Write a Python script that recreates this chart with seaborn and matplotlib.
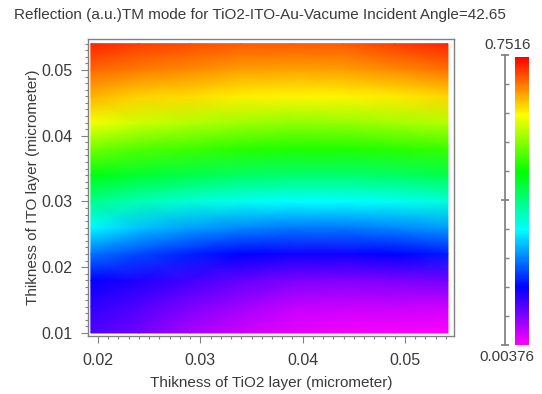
import numpy as np
import matplotlib
matplotlib.use("Agg")
import matplotlib.pyplot as plt
import seaborn as sns
from matplotlib.colors import LinearSegmentedColormap, Normalize
from matplotlib.ticker import MultipleLocator

# ---- data ----
tio2_thickness = [0.0193, 0.024, 0.029, 0.034, 0.039, 0.044, 0.049, 0.0542]
ito_thickness = [0.010, 0.014, 0.018, 0.022, 0.026, 0.030, 0.034, 0.038,
                 0.042, 0.046, 0.050, 0.054]

# reflection values per TiO2 column (bottom -> top in ITO thickness)
refl_x0193 = [0.108, 0.127, 0.150, 0.221, 0.299, 0.370, 0.442, 0.518, 0.596, 0.644, 0.689, 0.729]
refl_x0240 = [0.086, 0.108, 0.138, 0.195, 0.269, 0.346, 0.424, 0.500, 0.572, 0.628, 0.677, 0.714]
refl_x0290 = [0.056, 0.082, 0.116, 0.172, 0.249, 0.327, 0.408, 0.486, 0.557, 0.621, 0.669, 0.707]
refl_x0340 = [0.034, 0.060, 0.097, 0.155, 0.232, 0.312, 0.394, 0.475, 0.546, 0.610, 0.658, 0.699]
refl_x0390 = [0.019, 0.041, 0.082, 0.144, 0.223, 0.303, 0.388, 0.470, 0.538, 0.606, 0.654, 0.699]
refl_x0440 = [0.011, 0.037, 0.079, 0.144, 0.223, 0.303, 0.388, 0.471, 0.541, 0.608, 0.658, 0.699]
refl_x0490 = [0.008, 0.037, 0.082, 0.153, 0.232, 0.310, 0.394, 0.476, 0.548, 0.613, 0.669, 0.714]
refl_x0542 = [0.004, 0.034, 0.086, 0.168, 0.245, 0.324, 0.407, 0.485, 0.556, 0.624, 0.684, 0.729]

cbar_min = 0.00376
cbar_max = 0.7516
cbar_labels = ["0.7516", "0.00376"]

title = "Reflection (a.u.)TM mode for TiO2-ITO-Au-Vacume Incident Angle=42.65"
xlabel = "Thikness of TiO2 layer (micrometer)"
ylabel = "Thikness of ITO layer (micrometer)"

# ---- style ----
sns.set_theme(style="ticks")
plt.rcParams['font.family'] = ['Liberation Sans', 'DejaVu Sans']
text_color = "#3a3a3a"
spine_color = "#808080"

Z = np.column_stack([refl_x0193, refl_x0240, refl_x0290, refl_x0340,
                     refl_x0390, refl_x0440, refl_x0490, refl_x0542])
X = np.array(tio2_thickness)
Y = np.array(ito_thickness)

cmap = LinearSegmentedColormap.from_list(
    "refl", ["#ff00ff", "#0000ff", "#00ffff", "#00ff00", "#ffff00", "#ff0000"])
norm = Normalize(vmin=cbar_min, vmax=cbar_max)

fig = plt.figure(figsize=(5.42, 3.94), dpi=100)
ax = fig.add_axes([88/542, 1-336/394, (454-88)/542, (336-39)/394])
ax.pcolormesh(X, Y, Z, shading="gouraud", cmap=cmap, norm=norm, rasterized=True)
ax.set_xlim(0.01902, 0.05479)
ax.set_ylim(0.00954, 0.05471)

ax.xaxis.set_major_locator(MultipleLocator(0.01))
ax.yaxis.set_major_locator(MultipleLocator(0.01))
ax.xaxis.set_minor_locator(MultipleLocator(0.001))
ax.yaxis.set_minor_locator(MultipleLocator(0.001))
ax.tick_params(which="major", direction="out", length=5, width=0.8,
               color=spine_color, labelsize=11.5, labelcolor=text_color)
ax.tick_params(axis="x", which="major", pad=7)
ax.tick_params(axis="y", which="major", pad=6)
ax.tick_params(which="minor", direction="out", length=2.5, width=0.8, color=spine_color)
ax.set_xticks([0.02, 0.03, 0.04, 0.05])
ax.set_xticklabels(["0.02", "0.03", "0.04", "0.05"])
ax.set_yticks([0.01, 0.02, 0.03, 0.04, 0.05])
ax.set_yticklabels(["0.01", "0.02", "0.03", "0.04", "0.05"])
for s in ax.spines.values():
    s.set_color(spine_color)
    s.set_linewidth(1.0)
ax.set_xlabel(xlabel, fontsize=11, color=text_color, labelpad=6)
ax.set_ylabel(ylabel, fontsize=11, color=text_color, labelpad=1)
fig.text(260/542, 1-15/394, title, ha="center", va="center",
         fontsize=11, color=text_color)

# colorbar
cax = fig.add_axes([515/542, 1-345/394, 14/542, (345-57)/394])
sm = matplotlib.cm.ScalarMappable(norm=norm, cmap=cmap)
cb = fig.colorbar(sm, cax=cax)
cb.outline.set_visible(False)
cax.set_yticks([])

# scale line left of the bar
lax = fig.add_axes([505/542, 1-345/394, 0.0001, (345-55)/394])
lax.set_ylim(0, 1)
lax.set_xlim(0, 1)
for k, s in lax.spines.items():
    s.set_visible(k == "left")
lax.spines["left"].set_color(spine_color)
lax.set_xticks([])
lax.yaxis.set_major_locator(MultipleLocator(0.5))
lax.yaxis.set_minor_locator(MultipleLocator(0.1))
lax.tick_params(axis="y", which="major", direction="inout", length=6,
                color=spine_color, labelleft=False)
lax.tick_params(axis="y", which="minor", direction="in", length=3, color=spine_color)
lax.patch.set_visible(False)

fig.text(508/542, 1-45/394, cbar_labels[0], ha="center", va="center",
         fontsize=11, color=text_color)
fig.text(507/542, 1-357/394, cbar_labels[1], ha="center", va="center",
         fontsize=11, color=text_color)

fig.savefig("out.png", dpi=100)
